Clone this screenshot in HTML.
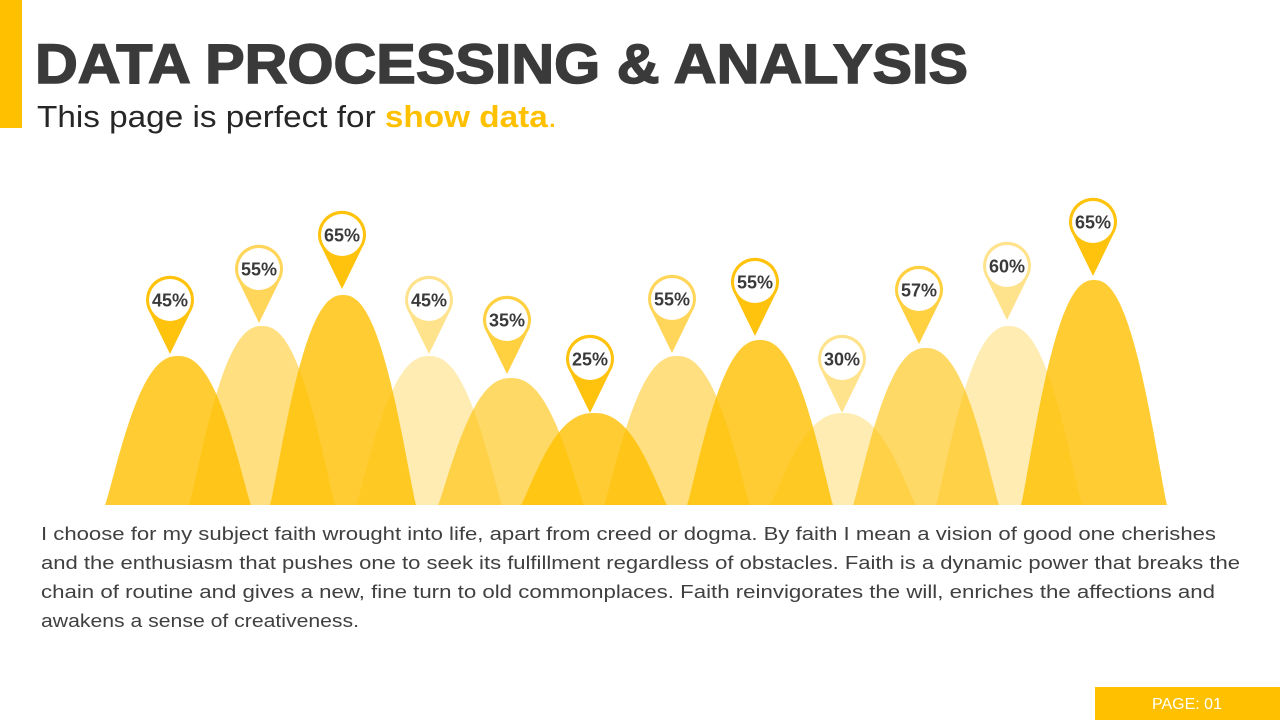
<!DOCTYPE html>
<html><head><meta charset="utf-8"><style>
html,body{margin:0;padding:0;background:#fff;width:1280px;height:720px;overflow:hidden}
svg{display:block}
</style></head><body>
<svg id="s" width="1280" height="720" xmlns="http://www.w3.org/2000/svg" font-family="Liberation Sans, sans-serif">
<rect x="0" y="0" width="22" height="128" fill="#FFC000"/>
<text x="35" y="83" font-size="56" font-weight="bold" fill="#3a3a3a" stroke="#3a3a3a" stroke-width="1.5" textLength="933" lengthAdjust="spacingAndGlyphs">DATA PROCESSING &amp; ANALYSIS</text>
<text x="37" y="127" font-size="31" fill="#262626" textLength="520" lengthAdjust="spacingAndGlyphs">This page is perfect for <tspan fill="#FFC000" font-weight="bold">show data</tspan><tspan fill="#FFC000">.</tspan></text>
<g id="mtn"></g>
<g id="pins"></g>
<g font-size="18.5" fill="#404040">
<text x="41" y="540" textLength="1175" lengthAdjust="spacingAndGlyphs">I choose for my subject faith wrought into life, apart from creed or dogma. By faith I mean a vision of good one cherishes</text>
<text x="41" y="569" textLength="1199" lengthAdjust="spacingAndGlyphs">and the enthusiasm that pushes one to seek its fulfillment regardless of obstacles. Faith is a dynamic power that breaks the</text>
<text x="41" y="598" textLength="1174" lengthAdjust="spacingAndGlyphs">chain of routine and gives a new, fine turn to old commonplaces. Faith reinvigorates the will, enriches the affections and</text>
<text x="41" y="627" textLength="318" lengthAdjust="spacingAndGlyphs">awakens a sense of creativeness.</text>
</g>
<rect x="1095" y="687" width="185" height="33" fill="#FFC000"/>
<text x="1187" y="709" font-size="16" fill="#fff" text-anchor="middle">PAGE: 01</text>
</svg>
<script>
var NS="http://www.w3.org/2000/svg";
var data=[[178,356,0.8,170,300,"45%"],[262,326,0.5,259,269,"55%"],[343,295,0.8,342,235,"65%"],[429,356,0.3,429,300,"45%"],[511,378,0.6,507,320,"35%"],[594,413,0.8,590,359,"25%"],[677,356,0.5,672,299,"55%"],[760,340,0.8,755,282,"55%"],[843,413,0.3,842,359,"30%"],[926,348,0.6,919,290,"57%"],[1009,326,0.3,1007,266,"60%"],[1094,280,0.8,1093,222,"65%"]];
var base=505,hw=73,m=document.getElementById("mtn"),p=document.getElementById("pins");
data.forEach(function(d){
 var s="M"+(d[0]-hw)+","+base;
 for(var i=0;i<=100;i++){var t=-1+2*i/100;var x=d[0]+t*hw;var y=base-(base-d[1])*Math.pow(Math.max(0,1-Math.pow(Math.abs(t),2.3)),1.15);s+=" L"+x.toFixed(1)+","+y.toFixed(1);}
 s+=" Z";
 var e=document.createElementNS(NS,"path");e.setAttribute("d",s);e.setAttribute("fill","#FFC000");e.setAttribute("fill-opacity",d[2]);m.appendChild(e);
 var cx=d[3],cy=d[4];
 var q=document.createElementNS(NS,"path");
 q.setAttribute("d","M"+(cx-20)+","+(cy+13)+" A24 24 0 1 1 "+(cx+20)+","+(cy+13)+" L"+cx+","+(cy+54)+" Z");
 q.setAttribute("fill","#FFC000");q.setAttribute("fill-opacity",Math.min(1,d[2]+0.15));p.appendChild(q);
 var c=document.createElementNS(NS,"circle");c.setAttribute("cx",cx);c.setAttribute("cy",cy);c.setAttribute("r",21);c.setAttribute("fill","#fff");p.appendChild(c);
 var t=document.createElementNS(NS,"text");t.setAttribute("x",cx);t.setAttribute("y",cy+6.5);t.setAttribute("text-anchor","middle");t.setAttribute("font-size","18");t.setAttribute("font-weight","bold");t.setAttribute("fill","#3a3a3a");t.textContent=d[5];p.appendChild(t);
});
</script>
</body></html>
